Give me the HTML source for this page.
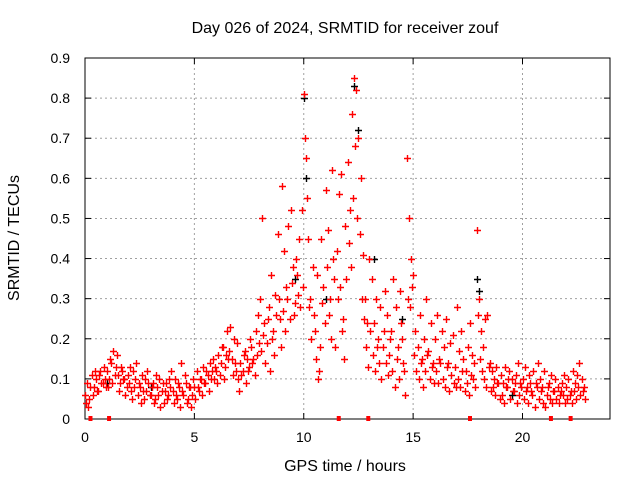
<!DOCTYPE html>
<html><head><meta charset="utf-8"><style>
body{margin:0;background:#fff}
svg{display:block;font-family:"Liberation Sans",sans-serif}
path.r{stroke:#ff0000}
path.k{stroke:#000000}
</style></head><body>
<svg id="c" width="640" height="480"></svg>
<script>
const redT=[];for(let i=0;i<229;i++)redT.push(i/10);
const redV1=[.06,.09,.05,.11,.08,.10,.07,.12,.09,.10,.12,.10,.14,.17,.13,.11,.09,.12,.10,.08,.09,.07,.12,.10,.06,.08,.11,.05,.07,.09,.06,.09,.05,.08,.10,.07,.04,.09,.06,.08,.07,.10,.05,.08,.14,.06,.09,.05,.08,.06,.08,.12,.07,.10,.13,.09,.11,.14,.12,.10,.12,.16,.14,.18,.13,.22,.17,.15,.20,.12,.10,.14,.12,.17,.15,.13,.18,.15,.22,.26,.30,.50,.24,.19,.28,.36,.22,.31,.46,.25,.58,.42,.33,.48,.52,.38,.29,.36,.45,.52,.81,.65,.45,.30,.38,.22,.36,.12,.45,.33,.57,.47,.30,.62,.35,.42,.56,.61,.25,.48,.64,.52,.76,.85,.82,.70,.60,.41,.30,.24,.40,.35,.24,.30,.20,.28,.18,.32,.26,.16,.22,.35,.28,.18,.32,.20,.12,.65,.50,.40,.36,.22,.18,.26,.15,.20,.30,.17,.24,.14,.20,.26,.15,.22,.18,.25,.14,.19,.21,.13,.28,.17,.22,.15,.12,.18,.24,.16,.14,.47,.30,.22,.18,.25,.26,.14,.12,.10,.13,.09,.11,.09,.13,.08,.12,.10,.07,.11,.14,.09,.10,.13,.08,.11,.07,.12,.09,.14,.10,.08,.12,.06,.09,.11,.07,.10,.08,.06,.09,.11,.08,.10,.07,.12,.09,.11,.14,.10,.08];
const redV2=[.04,.03,.08,.06,.12,.07,.11,.09,.13,.08,.08,.15,.09,.11,.16,.07,.13,.10,.06,.11,.13,.05,.08,.14,.09,.04,.07,.10,.12,.06,.08,.04,.11,.06,.03,.09,.07,.05,.10,.12,.04,.06,.09,.03,.07,.11,.04,.08,.03,.10,.05,.08,.10,.06,.09,.12,.07,.10,.15,.13,.09,.11,.18,.10,.16,.15,.23,.11,.14,.19,.07,.11,.16,.09,.12,.20,.14,.11,.16,.19,.17,.21,.14,.25,.12,.20,.16,.26,.30,.18,.27,.22,.30,.25,.34,.26,.40,.31,.28,.33,.70,.55,.28,.20,.26,.15,.10,.18,.29,.24,.38,.26,.20,.40,.18,.30,.33,.22,.15,.35,.44,.38,.55,.68,.50,.46,.30,.25,.18,.13,.22,.16,.12,.18,.14,.10,.22,.14,.11,.20,.12,.08,.15,.10,.24,.14,.06,.30,.28,.33,.16,.12,.10,.14,.08,.12,.16,.10,.13,.09,.12,.09,.14,.10,.08,.13,.07,.11,.09,.08,.10,.08,.12,.07,.09,.06,.11,.10,.08,.26,.15,.12,.10,.08,.13,.07,.08,.06,.09,.05,.06,.04,.08,.10,.05,.07,.09,.04,.06,.08,.05,.07,.04,.09,.06,.03,.08,.05,.07,.04,.03,.08,.05,.04,.07,.05,.04,.07,.06,.04,.05,.06,.04,.07,.05,.08,.06,.07,.05];
const blackT=[1.0,3.0,9.6,10.0,10.1,11.0,12.3,12.5,13.2,14.5,17.9,18.0,19.5];
const blackV=[.09,.08,.35,.80,.60,.30,.83,.72,.40,.25,.35,.32,.06];
const zeroT=[0.25,1.1,11.6,12.95,17.6,21.3,22.2];
const xTicks=[0,5,10,15,20];
const yTicks=[0,0.1,0.2,0.3,0.4,0.5,0.6,0.7,0.8,0.9];
const L=85,R=610,T=58,B=419;
const X=t=>L+t/24*(R-L), Y=v=>B-v/0.9*(B-T);
const svg=document.getElementById('c');const NS='http://www.w3.org/2000/svg';
function mk(tag,a,p){const e=document.createElementNS(NS,tag);for(const k in a)e.setAttribute(k,a[k]);(p||svg).appendChild(e);return e;}
let e;
yTicks.forEach(v=>{
 if(v>0&&v<0.9){e=mk('line',{x1:L,x2:R,y1:Y(v),y2:Y(v),stroke:'#a0a0a0','stroke-dasharray':'2,3'});
 
 }
 mk('line',{x1:L,x2:L+6,y1:Y(v),y2:Y(v),stroke:'#000'});
 mk('line',{x1:R,x2:R-6,y1:Y(v),y2:Y(v),stroke:'#000'});
 e=mk('text',{x:L-15,y:Y(v)+5,'text-anchor':'end','font-size':14});e.textContent=String(v);
 
 
});
xTicks.forEach(t=>{
 if(t>0){e=mk('line',{x1:X(t),x2:X(t),y1:T,y2:B,stroke:'#a0a0a0','stroke-dasharray':'2,3'});
 
 }
 mk('line',{x1:X(t),x2:X(t),y1:B,y2:B-6,stroke:'#000'});
 mk('line',{x1:X(t),x2:X(t),y1:T,y2:T+6,stroke:'#000'});
 e=mk('text',{x:X(t),y:B+23,'text-anchor':'middle','font-size':14});e.textContent=String(t);
 
 
});
e=mk('rect',{x:L,y:T,width:R-L,height:B-T,fill:'none',stroke:'#000'});


function plus(t,v,cls,name){
 const x=Math.round(X(t))+.5,y=Math.round(Y(v))+.5;
 const p=mk('path',{d:`M${x-3.5},${y}h7M${x},${y-3.5}v7`,'class':cls,'stroke-width':1.4,fill:'none'});
 
 
}
blackT.forEach((t,i)=>plus(t,blackV[i],'k','black-point'));
redT.forEach((t,i)=>{plus(t,redV1[i],'r','red-point');});
redT.forEach((t,i)=>{plus(t+0.05,redV2[i],'r','red-point');});
zeroT.forEach(t=>{e=mk('rect',{x:X(t)-2,y:B-3,width:4,height:5,fill:'#f00'});
 
 });
e=mk('text',{x:345,y:33,'text-anchor':'middle','font-size':16});e.textContent='Day 026 of 2024, SRMTID for receiver zouf';


e=mk('text',{x:345,y:471,'text-anchor':'middle','font-size':16});e.textContent='GPS time / hours';


e=mk('text',{x:0,y:0,'text-anchor':'middle','font-size':16,transform:'translate(19,238) rotate(-90)'});e.textContent='SRMTID / TECUs';


</script>
</body></html>
